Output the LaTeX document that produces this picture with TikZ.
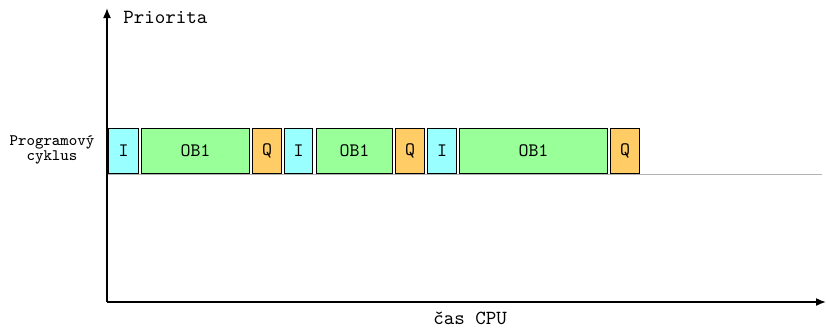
\documentclass[tikz,border=0pt]{standalone}
\usetikzlibrary{arrows.meta}
\definecolor{cI}{RGB}{153,255,255}
\definecolor{cOB}{RGB}{153,255,153}
\definecolor{cQ}{RGB}{255,204,102}
\begin{document}
\begin{tikzpicture}[x=0.5pt,y=-0.5pt,
  axis/.style={line width=0.8pt,-{Latex[length=5pt,width=4pt]}},
  blk/.style={draw=black,line width=0.7pt,minimum height=22.5pt,inner sep=0pt,font=\ttfamily\fontsize{9.5pt}{11pt}\selectfont},
  bI/.style={blk,fill=cI},
  bOB/.style={blk,fill=cOB},
  bQ/.style={blk,fill=cQ},
  lbl/.style={font=\ttfamily,inner sep=0pt}]
\useasboundingbox (0,0) rectangle (826,329);
\coordinate (O) at (107,302);
\coordinate (ytop) at (107,8);
\coordinate (xend) at (826,302);
\coordinate (gl) at (107,174);
\coordinate (gr) at (822,174);
\draw[gray!60,line width=0.5pt] (gl) -- (gr);
\draw[axis] (O) -- (ytop);
\draw[axis] (O) -- (xend);
\node[lbl,anchor=west] (prio) at (123,17) {Priorita};
\node[lbl] (cas) at (470,318) {čas CPU};
\node[font=\ttfamily\footnotesize,align=center,inner sep=0pt] (pc) at (52,150) {Programový\\[-2pt]cyklus};
\node[bI,minimum width=15pt] (i1) at (123.5,151) {I};
\node[bOB,minimum width=54pt] (ob1) at (195.5,151) {OB1};
\node[bQ,minimum width=14.5pt] (q1) at (267,151) {Q};
\node[bI,minimum width=14pt] (i2) at (298.5,151) {I};
\node[bOB,minimum width=38pt] (ob2) at (354.5,151) {OB1};
\node[bQ,minimum width=14.5pt] (q2) at (410,151) {Q};
\node[bI,minimum width=14.5pt] (i3) at (442,151) {I};
\node[bOB,minimum width=74pt] (ob3) at (533.5,151) {OB1};
\node[bQ,minimum width=14.5pt] (q3) at (625,151) {Q};
\end{tikzpicture}
\end{document}
